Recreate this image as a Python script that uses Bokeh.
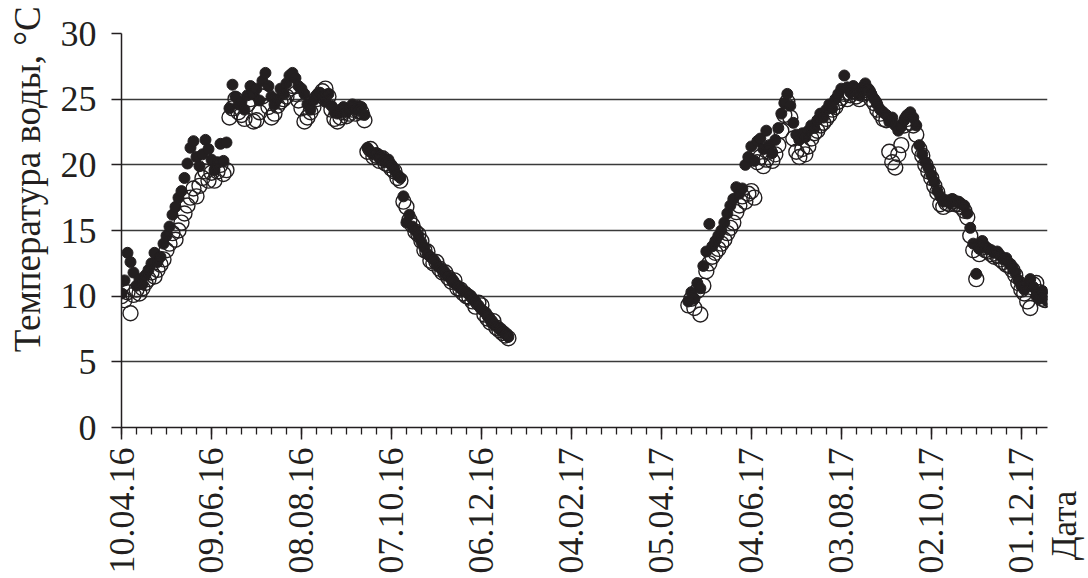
import datetime as dt
from math import pi

from bokeh.plotting import figure
from bokeh.models import ColumnDataSource, FixedTicker, DatetimeTickFormatter, Range1d, Label
from bokeh.embed import file_html
from bokeh.resources import INLINE

INK = "#231f20"
FONT = "Liberation Serif"

# ---------------- data ----------------
tick_labels = ["10.04.16", "09.06.16", "08.08.16", "07.10.16", "06.12.16", "04.02.17",
               "05.04.17", "04.06.17", "03.08.17", "02.10.17", "01.12.17"]
y_ticks = [0, 5, 10, 15, 20, 25, 30]
axis_start = "2016-04-10"
axis_end = "2017-12-18"
y_title = "Температура воды, °C"
x_title = "Дата"

season_starts = ["2016-04-10", "2017-04-23"]
step_days = 2

filled_2016 = [
    10.2, 11.2, 13.3, 12.6, 11.8, 10.8, 11.3, 10.9, 11.6, 12.0,
    12.5, 13.3, 12.6, 13.0, 14.0, 14.6, 15.3, 16.2, 16.8, 17.5,
    18.0, 19.0, 20.1, 21.3, 21.8, 20.6, 19.9, 20.8, 21.9, 21.2,
    20.4, 19.6, 20.2, 21.6, 20.3, 21.7, 24.3, 26.1, 25.2, 24.6,
    24.8, 24.2, 25.3, 26.0, 25.4, 25.8, 24.9, 26.4, 27.0, 26.0,
    25.2, 24.6, 25.0, 25.8, 25.4, 26.2, 26.8, 27.0, 26.6, 26.0,
    25.8, 25.4, 24.6, 24.2, 24.9, 25.3, 25.5, 25.2, 24.8, 25.4,
    24.5, 24.0, 23.9, 24.2, 24.4, 24.0, 24.3, 24.6, 24.2, 24.5,
    24.4, 23.8, 21.3, 21.0, 20.8, 20.9, 20.5, 20.6, 20.2, 20.4,
    20.0, 19.6, 19.2, 19.0, 17.6, 15.6, 16.2, 15.3, 15.0, 14.6,
    14.1, 13.7, 13.2, 13.0, 12.8, 12.4, 12.2, 12.0, 11.7, 11.5,
    11.3, 11.0, 10.8, 10.6, 10.4, 10.3, 10.1, 9.8, 9.6, 9.3,
    9.0, 8.8, 8.5, 8.2, 7.9, 7.7, 7.5, 7.3, 7.1, 6.9,
]
open_2016 = [
    10.0, 9.7, 10.3, 8.7, 10.1, 10.5, 10.2, 10.6, 11.0, 11.3,
    11.8, 11.5, 12.0, 12.4, 12.8, 13.5, 14.0, 14.8, 14.3, 15.0,
    15.6, 16.3, 16.9, 17.5, 18.2, 17.6, 18.4, 19.0, 19.5, 18.8,
    19.4, 18.8, 19.5, 20.0, 19.3, 19.6, 23.6, 24.3, 25.0, 24.0,
    23.8, 23.5, 24.6, 25.0, 23.3, 23.4, 24.0, 25.2, 25.6, 24.4,
    23.6, 23.9, 24.5, 24.8, 25.0, 25.2, 25.8, 26.0, 25.4, 24.9,
    24.3, 23.3, 23.6, 24.0, 24.4, 25.0, 25.3, 25.6, 25.8, 25.2,
    24.2, 23.5, 23.3, 23.6, 24.0, 23.7, 23.9, 24.2, 23.9, 24.1,
    24.0, 23.4, 21.0, 21.2, 20.6, 20.7, 20.3, 20.5, 20.1, 20.0,
    19.7, 19.5, 19.0, 18.8, 17.2, 16.8, 15.8, 15.4, 14.9, 14.7,
    14.2, 13.5, 13.4, 12.7, 12.5, 12.6, 12.1, 11.8, 11.8, 11.4,
    11.1, 11.2, 10.6, 10.5, 10.2, 10.0, 9.9, 9.6, 9.2, 9.5,
    9.3, 8.6, 8.3, 8.0, 8.1, 7.6, 7.4, 7.2, 7.0, 6.8,
]
filled_2017 = [
    9.6, 10.3, 9.8, 11.0, 10.6, 12.3, 13.4, 15.5, 13.8, 14.2,
    14.6, 15.0, 15.6, 16.3, 16.9, 17.4, 18.3, 17.8, 18.2, 20.0,
    20.6, 21.4, 20.3, 21.8, 22.0, 21.2, 22.6, 21.5, 20.9, 21.9,
    22.8, 23.9, 24.7, 25.4, 24.5, 23.2, 22.3, 21.9, 22.4, 22.1,
    22.6, 23.0, 22.8, 23.4, 23.9, 23.6, 24.2, 24.6, 24.3, 25.0,
    25.4, 25.8, 26.8, 25.9, 25.5, 26.0, 25.7, 25.3, 25.9, 26.2,
    25.8, 25.4, 25.0, 24.6, 24.2, 24.0, 23.8, 23.3, 23.6, 23.0,
    22.6, 22.9, 23.4, 23.8, 24.0, 23.6, 23.0, 21.5, 20.8, 20.2,
    19.8, 19.2, 18.7, 18.0, 17.6, 17.2, 17.3, 17.1, 17.4, 17.2,
    17.2, 17.0, 16.9, 16.3, 15.2, 14.0, 11.7, 13.6, 14.2, 13.8,
    13.6, 13.5, 13.3, 13.4, 13.1, 12.8, 12.9, 12.5, 12.2, 11.8,
    11.2, 10.8, 10.5, 10.9, 11.3, 10.7, 10.0, 9.8, 10.4, 10.1,
    9.6,
]
open_2017 = [
    9.3, 9.8, 9.1, 10.4, 8.6, 10.8, 11.9, 12.5, 13.0, 13.3,
    13.6, 14.0, 14.3, 14.8, 15.2, 15.6, 16.4, 16.9, 17.6, 17.2,
    17.8, 18.0, 17.5, 20.2, 20.6, 19.9, 20.4, 21.0, 20.3, 20.8,
    21.5, 22.6, 23.8, 24.8, 23.6, 22.0, 21.0, 20.6, 21.2, 20.8,
    21.4, 22.0, 22.4, 22.6, 23.0, 23.2, 23.5, 23.8, 24.2, 24.4,
    24.8, 25.1, 25.4, 25.0, 25.3, 25.6, 25.2, 25.0, 25.4, 25.7,
    25.5, 25.0, 24.7, 24.2, 23.9, 23.5, 23.4, 21.0, 20.2, 19.8,
    20.8, 21.5, 23.0, 23.5, 23.2, 23.0, 22.3, 21.2, 20.7, 20.0,
    19.5, 19.0, 18.4, 17.9, 17.0, 16.8, 17.1, 17.0, 17.2, 17.0,
    17.0, 16.8, 16.5, 16.0, 14.6, 13.5, 11.3, 13.2, 13.7, 13.5,
    13.4, 13.2, 13.0, 13.1, 12.8, 12.6, 12.4, 12.3, 12.0, 11.6,
    11.0, 10.5, 10.2, 9.6, 9.1, 10.9, 11.0, 10.3, 9.8, 9.7,
    9.8,
]

# ---------------- helpers ----------------
EPOCH = dt.datetime(1970, 1, 1)
DAY = 86400000.0


def to_ms(d):
    return (d - EPOCH).total_seconds() * 1000.0


def parse(s):
    return dt.datetime.strptime(s, "%Y-%m-%d")


def season_dates(start, n):
    s = parse(start)
    return [s + dt.timedelta(days=step_days * i) for i in range(n)]


d16 = season_dates(season_starts[0], len(filled_2016))
d17 = season_dates(season_starts[1], len(filled_2017))

src_filled = ColumnDataSource(dict(x=d16 + d17, y=filled_2016 + filled_2017))
src_open = ColumnDataSource(dict(x=d16 + d17, y=open_2016 + open_2017))

x0 = parse(axis_start)
x1 = parse(axis_end)
major = [to_ms(dt.datetime.strptime(t, "%d.%m.%y")) for t in tick_labels]
minor = []
m = to_ms(x0)
while m <= to_ms(x1):
    minor.append(m)
    m += 10 * DAY

# ---------------- plot ----------------
p = figure(width=1086, height=576, x_axis_type="datetime",
           x_range=Range1d(to_ms(x0), to_ms(x1) + 0.5 * DAY),
           y_range=Range1d(0, 30),
           output_backend="svg", toolbar_location=None,
           min_border_left=121, min_border_right=34,
           min_border_top=33, min_border_bottom=149)
p.outline_line_color = None
p.background_fill_color = "white"
p.border_fill_color = "white"

p.scatter("x", "y", source=src_filled, marker="circle", size=11,
          fill_color=INK, line_color=INK, line_width=1)
p.scatter("x", "y", source=src_open, marker="circle", size=15,
          fill_color=None, line_color=INK, line_width=1.4)

xa = p.xaxis[0]
xa.ticker = FixedTicker(ticks=major, minor_ticks=minor)
fmt = "%d.%m.%y"
xa.formatter = DatetimeTickFormatter(microseconds=fmt, milliseconds=fmt, seconds=fmt,
                                     minsec=fmt, minutes=fmt, hourmin=fmt, hours=fmt,
                                     days=fmt, months=fmt, years=fmt)
xa.major_label_orientation = pi / 2
xa.major_label_text_font = FONT
xa.major_label_text_font_size = "36px"
xa.major_label_text_color = INK
xa.major_label_standoff = 8
xa.axis_line_color = INK
xa.axis_line_width = 1.5
xa.major_tick_line_color = INK
xa.major_tick_line_width = 1.5
xa.major_tick_out = 12
xa.major_tick_in = 0
xa.minor_tick_line_color = INK
xa.minor_tick_line_width = 1.3
xa.minor_tick_out = 7
xa.minor_tick_in = 0

ya = p.yaxis[0]
ya.ticker = FixedTicker(ticks=y_ticks)
ya.major_label_text_font = FONT
ya.major_label_text_font_size = "36px"
ya.major_label_text_color = INK
ya.major_label_standoff = 15
ya.axis_line_color = INK
ya.axis_line_width = 1.5
ya.major_tick_line_color = INK
ya.major_tick_line_width = 1.5
ya.major_tick_out = 10
ya.major_tick_in = 0
ya.minor_tick_line_color = None

p.xgrid.grid_line_color = None
p.ygrid.grid_line_color = "#3a3a3a"
p.ygrid.grid_line_width = 1.4
p.ygrid.ticker = FixedTicker(ticks=y_ticks)

# axis titles, placed in the side panels so they are not clipped to the frame
p.add_layout(Label(x=to_ms(x0) - 62.5 * DAY, y=18.9, text=y_title,
                   angle=pi / 2, text_align="center", text_baseline="middle",
                   text_font=FONT, text_font_size="37px", text_color=INK), "left")
p.add_layout(Label(x=to_ms(x0) + 628.8 * DAY, y=-7.46, text=x_title,
                   angle=pi / 2, text_align="center", text_baseline="middle",
                   text_font=FONT, text_font_size="35px", text_color=INK), "right")

open("out.html", "w").write(file_html(p, INLINE))
